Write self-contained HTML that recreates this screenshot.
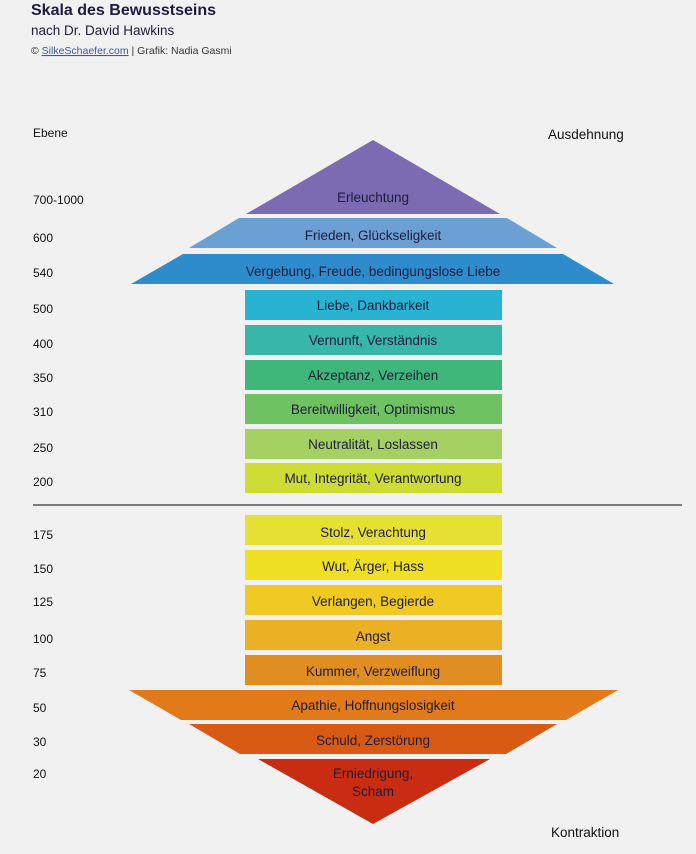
<!DOCTYPE html>
<html><head><meta charset="utf-8"><style>
body{margin:0;background:#f1f1f1;width:696px;height:849px;overflow:hidden;font-family:"Liberation Sans",sans-serif}
</style></head><body>
<svg width="696" height="849" xmlns="http://www.w3.org/2000/svg" font-family="Liberation Sans, sans-serif">
<rect width="696" height="849" fill="#f1f1f1"/>
<text x="31" y="15" font-size="16" font-weight="bold" fill="#1e1c3c">Skala des Bewusstseins</text>
<text x="31" y="35" font-size="13.5" fill="#1e1c3c">nach Dr. David Hawkins</text>
<text x="31" y="54" font-size="10.5" fill="#333">© <tspan fill="#3a5a9a" text-decoration="underline">SilkeSchaefer.com</tspan> | Grafik: Nadia Gasmi</text>
<text x="33" y="137" font-size="12" fill="#111">Ebene</text>
<text x="548" y="139" font-size="13.5" fill="#111">Ausdehnung</text>
<text x="551" y="837" font-size="13.5" fill="#111">Kontraktion</text>
<g font-size="12" fill="#111">
<text x="33" y="204">700-1000</text><text x="33" y="242">600</text><text x="33" y="277">540</text>
<text x="33" y="313">500</text><text x="33" y="348">400</text><text x="33" y="382">350</text>
<text x="33" y="416">310</text><text x="33" y="452">250</text><text x="33" y="486">200</text>
<text x="33" y="539">175</text><text x="33" y="573">150</text><text x="33" y="606">125</text>
<text x="33" y="643">100</text><text x="33" y="677">75</text><text x="33" y="712">50</text>
<text x="33" y="746">30</text><text x="33" y="778">20</text>
</g>
<line x1="33" y1="505" x2="682" y2="505" stroke="#555" stroke-width="1.5"/>
<polygon points="373,140 500,214 246,214" fill="#7c6bb2"/>
<polygon points="239,218 507,218 557,248 189,248" fill="#6c9fd3"/>
<polygon points="183,254 563,254 614,284 131,284" fill="#2f8ccc"/>
<g>
<rect x="245" y="290" width="257" height="30" fill="#29b3d3"/>
<rect x="245" y="325" width="257" height="30" fill="#38b6aa"/>
<rect x="245" y="360" width="257" height="30" fill="#40b77a"/>
<rect x="245" y="394" width="257" height="30" fill="#6fc262"/>
<rect x="245" y="429" width="257" height="30" fill="#a5d062"/>
<rect x="245" y="463" width="257" height="30" fill="#cfdc33"/>
<rect x="245" y="515" width="257" height="30" fill="#e7e034"/>
<rect x="245" y="550" width="257" height="30" fill="#f0e024"/>
<rect x="245" y="585" width="257" height="30" fill="#f0c922"/>
<rect x="245" y="620" width="257" height="30" fill="#ebb024"/>
<rect x="245" y="655" width="257" height="30" fill="#e08e22"/>
</g>
<polygon points="129,690 618,690 566,720 181,720" fill="#e27a1a"/>
<polygon points="189,724 557,724 506,754 240,754" fill="#d95a12"/>
<polygon points="258,759 490,759 373,824" fill="#c92c10"/>
<g font-size="13.5" fill="#1e1c3c" text-anchor="middle">
<text x="373" y="202">Erleuchtung</text>
<text x="373" y="240">Frieden, Glückseligkeit</text>
<text x="373" y="276">Vergebung, Freude, bedingungslose Liebe</text>
<text x="373" y="310">Liebe, Dankbarkeit</text>
<text x="373" y="345">Vernunft, Verständnis</text>
<text x="373" y="380">Akzeptanz, Verzeihen</text>
<text x="373" y="414">Bereitwilligkeit, Optimismus</text>
<text x="373" y="449">Neutralität, Loslassen</text>
<text x="373" y="483">Mut, Integrität, Verantwortung</text>
<text x="373" y="537">Stolz, Verachtung</text>
<text x="373" y="571">Wut, Ärger, Hass</text>
<text x="373" y="606">Verlangen, Begierde</text>
<text x="373" y="641">Angst</text>
<text x="373" y="676">Kummer, Verzweiflung</text>
<text x="373" y="710">Apathie, Hoffnungslosigkeit</text>
<text x="373" y="745">Schuld, Zerstörung</text>
<text x="373" y="778">Erniedrigung,</text>
<text x="373" y="796">Scham</text>
</g>
</svg>
</body></html>
